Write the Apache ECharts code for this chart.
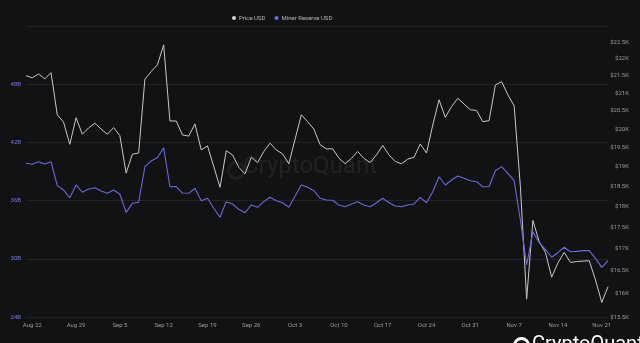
<!DOCTYPE html>
<html>
<head>
<meta charset="utf-8">
<script src="https://cdn.jsdelivr.net/npm/echarts@6/dist/echarts.min.js"></script>
<style>
html,body{margin:0;padding:0;background:#121214;}
#c{width:640px;height:343px;}
</style>
</head>
<body>
<div id="c"></div>
<script>
// Categories: daily, Aug 21 .. Nov 22
const months = [['Aug', 21, 31], ['Sep', 1, 30], ['Oct', 1, 31], ['Nov', 1, 22]];
const dates = [];
months.forEach(function (m) { for (let d = m[1]; d <= m[2]; d++) dates.push(m[0] + ' ' + d); });

// Price USD (right axis, log scale)
const priceUSD = [
  21500, 21440, 21550, 21410, 21590, 20390, 20190, 19590, 20310, 19860,
  20030, 20160, 20000, 19860, 20040, 19820, 18840, 19330, 19360, 21400,
  21620, 21820, 22420, 20220, 20220, 19840, 19810, 20140, 19440, 19550,
  19010, 18480, 19420, 19310, 18990, 18820, 19250, 19110, 19400, 19620,
  19440, 19340, 19080, 19730, 20390, 20200, 20000, 19580, 19470, 19470,
  19230, 19080, 19220, 19400, 19220, 19110, 19310, 19560, 19310, 19140,
  19080, 19200, 19250, 19600, 19360, 20110, 20810, 20320, 20620, 20850,
  20690, 20530, 20510, 20200, 20230, 21230, 21330, 20950, 20640, 18500,
  15880, 17670, 17170, 16920, 16360, 16680, 16920, 16690, 16710, 16720,
  16730, 16300, 15810, 16150
];

// Miner Reserve USD, billions (left axis)
const minerReserveB = [
  39.85, 39.74, 40.01, 39.77, 40.01, 37.54, 37.09, 36.30, 37.61, 36.86,
  37.20, 37.33, 36.99, 36.75, 37.09, 36.65, 34.79, 35.72, 35.83, 39.50,
  40.08, 40.42, 41.45, 37.43, 37.45, 36.78, 36.75, 37.27, 35.99, 36.24,
  35.21, 34.28, 35.89, 35.65, 35.10, 34.75, 35.55, 35.31, 35.89, 36.34,
  35.99, 35.78, 35.31, 36.47, 37.61, 37.37, 37.02, 36.24, 36.06, 36.03,
  35.55, 35.37, 35.65, 35.89, 35.55, 35.37, 35.78, 36.24, 35.78, 35.44,
  35.37, 35.55, 35.65, 36.34, 35.78, 36.92, 38.46, 37.61, 38.12, 38.54,
  38.30, 38.05, 37.95, 37.43, 37.43, 39.08, 39.50, 38.81, 38.05, 34.00,
  29.36, 32.79, 31.66, 30.98, 30.16, 30.63, 31.19, 30.73, 30.77, 30.84,
  30.84, 30.05, 29.12, 29.80
];

// Tick labels
const reserveTicks = [24, 30, 36, 42, 48, 54];
const priceTicks = [15500, 16000, 16500, 17000, 17500, 18000, 18500, 19000, 19500, 20000, 20500, 21000, 21500, 22000, 22500];
const priceMin = 15500, priceMax = 23000;

const chart = echarts.init(document.getElementById('c'), null, {renderer: 'canvas'});
const fontFam = 'Roboto, "Noto Sans", sans-serif';
chart.setOption({
  backgroundColor: '#121214',
  animation: false,
  legend: {
    data: ['Price USD', 'Miner Reserve USD'],
    left: 227, top: 10,
    icon: 'circle', itemWidth: 4, itemHeight: 4, itemGap: 9,
    textStyle: {color: '#b8b8bc', fontSize: 6, fontFamily: fontFam, padding: [0, 0, 0, -2]}
  },
  grid: {left: 26, right: 32, top: 26, bottom: 26},
  xAxis: {
    type: 'category',
    data: dates,
    boundaryGap: false,
    axisLine: {show: true, lineStyle: {color: '#232327'}},
    axisTick: {show: false},
    axisLabel: {
      color: '#9a9aa0', fontSize: 6, fontFamily: fontFam, margin: 5,
      interval: function (idx) { return (idx - 1) % 7 === 0; }
    },
    splitLine: {show: false}
  },
  yAxis: [
    {
      type: 'value', min: reserveTicks[0], max: reserveTicks[reserveTicks.length - 1], interval: 6,
      position: 'left',
      axisLine: {show: false}, axisTick: {show: false},
      axisLabel: {color: '#7e79e0', fontSize: 6, fontFamily: fontFam, margin: 5, showMaxLabel: false,
        formatter: function (v) { return v + 'B'; }},
      splitLine: {show: true, lineStyle: {color: '#232327', width: 1}}
    },
    {
      type: 'value', min: Math.log(priceMin), max: Math.log(priceMax),
      position: 'right',
      axisLine: {show: false}, axisTick: {show: false, customValues: priceTicks.map(Math.log)},
      axisLabel: {
        color: '#9a9aa0', fontSize: 6, fontFamily: fontFam, margin: 21, align: 'right',
        customValues: priceTicks.map(Math.log),
        formatter: function (v) { return '$' + (Math.round(Math.exp(v) / 100) / 10) + 'K'; }
      },
      splitLine: {show: false}
    }
  ],
  graphic: [
    {type: 'circle', left: 226, top: 160, silent: true,
      shape: {r: 8}, style: {fill: 'none', stroke: 'rgba(255,255,255,0.06)', lineWidth: 3}},
    {type: 'text', left: 243, top: 155, silent: true,
      style: {text: 'CryptoQuant', fill: 'rgba(255,255,255,0.07)', fontSize: 24, fontFamily: fontFam}},
    {type: 'circle', left: 512, top: 336, silent: true,
      shape: {r: 7}, style: {fill: 'none', stroke: '#ffffff', lineWidth: 3}},
    {type: 'text', left: 532, top: 335, silent: true,
      style: {text: 'CryptoQuant', fill: '#ffffff', fontSize: 20, fontFamily: fontFam}}
  ],
  series: [
    {
      name: 'Price USD', type: 'line', yAxisIndex: 1,
      data: priceUSD.map(function (p) { return Math.log(p); }),
      showSymbol: false, symbol: 'circle',
      itemStyle: {color: '#d6d6d8'},
      lineStyle: {color: '#c8c8cc', width: 1}
    },
    {
      name: 'Miner Reserve USD', type: 'line', yAxisIndex: 0,
      data: minerReserveB,
      showSymbol: false, symbol: 'circle',
      itemStyle: {color: '#6f6be0'},
      lineStyle: {color: '#6c68d8', width: 1.1}
    }
  ]
});
</script>
</body>
</html>
